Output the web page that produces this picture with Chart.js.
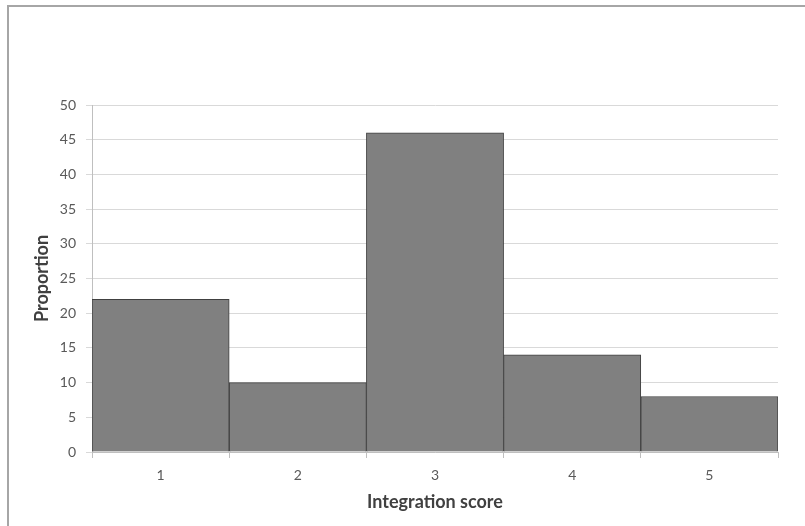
<!DOCTYPE html>
<html>
<head>
<meta charset="utf-8">
<script src="https://cdn.jsdelivr.net/npm/chart.js@4/dist/chart.umd.min.js"></script>
<style>
  html, body { margin: 0; padding: 0; background: #fff; }
  #wrap { position: relative; width: 805px; height: 526px; overflow: hidden; }
  #frame { position: absolute; left: 7px; top: 5px; width: 900px; height: 600px; border: 2px solid #a6a6a6; box-sizing: border-box; }
  #myChart { position: absolute; left: 0; top: 0; }
</style>
</head>
<body>
<div id="wrap">
  <div id="frame"></div>
  <canvas id="myChart" width="805" height="526"></canvas>
</div>
<script>
var categories = ["1", "2", "3", "4", "5"];
var proportions = [22, 10, 46, 14, 8];
var yMin = 0, yMax = 50, yStep = 5;

var ctx = document.getElementById('myChart').getContext('2d');
var chart = new Chart(ctx, {
    type: 'bar',
    data: {
        labels: categories,
        datasets: [{
            label: "Proportion",
            data: proportions,
            backgroundColor: '#808080',
            borderColor: '#404040',
            borderWidth: 1,
            barPercentage: 1,
            categoryPercentage: 1
        }]
    },
    options: {
        responsive: false,
        animation: false,
        layout: { padding: { left: 0, top: 105, right: 27, bottom: 0 } },
        plugins: { legend: { display: false }, tooltip: { enabled: false } },
        scales: {
            x: {
                offset: true,
                grid: { offset: true, drawOnChartArea: false, drawTicks: true, tickLength: 6, color: '#bfbfbf' },
                border: { color: '#bfbfbf' },
                ticks: { color: '#595959', padding: 9, font: { family: 'Lato', size: 14 } },
                title: { display: true, text: 'Integration score', color: '#404040',
                         font: { family: 'Lato', size: 18, weight: 'bold' }, padding: { top: 0, bottom: 13 } },
                afterFit: function (scale) { scale.height = 74; }
            },
            y: {
                min: yMin,
                max: yMax,
                grid: { color: '#d9d9d9', tickLength: 6 },
                border: { color: '#bfbfbf' },
                ticks: { stepSize: yStep, color: '#595959', padding: 10, font: { family: 'Lato', size: 14 } },
                title: { display: true, text: 'Proportion', color: '#404040',
                         font: { family: 'Lato', size: 18, weight: 'bold' }, padding: { top: 31, bottom: 0 } },
                afterFit: function (scale) { scale.width = 92; }
            }
        }
    }
});
</script>
</body>
</html>
